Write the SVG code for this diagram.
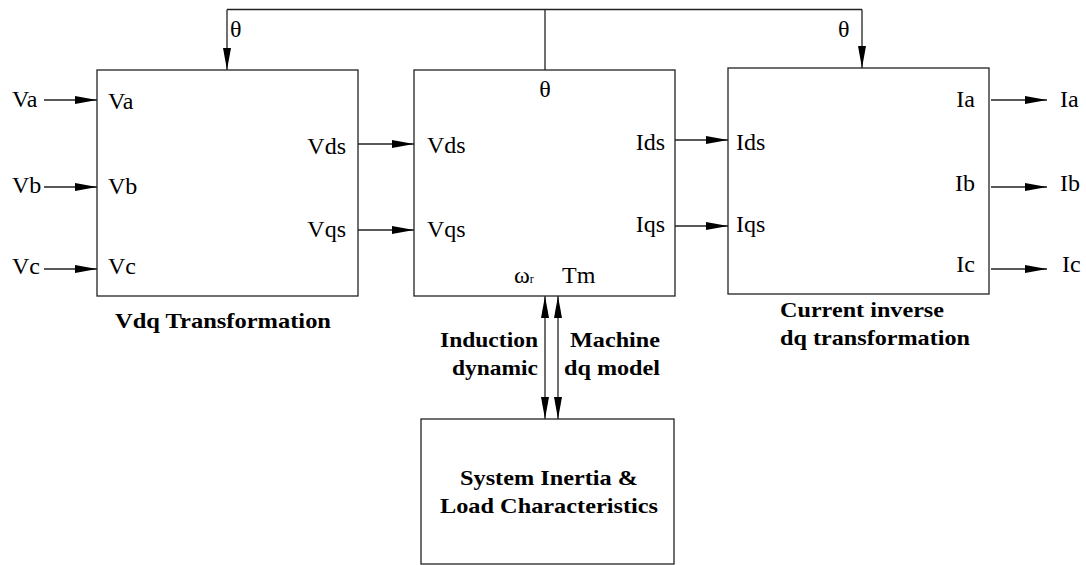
<svg xmlns="http://www.w3.org/2000/svg" width="1086" height="565" viewBox="0 0 1086 565">
<defs>
<marker id="ah" markerUnits="userSpaceOnUse" markerWidth="22" markerHeight="9" refX="22" refY="4.5" orient="auto" viewBox="0 0 22 9">
<path d="M0,0.5 L22,4.5 L0,8.5 z" fill="#000"/>
</marker>
<style>
.box{fill:#fff;stroke:#222;stroke-width:1.3}
.ln{fill:none;stroke:#222;stroke-width:1.3}
.ar{fill:none;stroke:#222;stroke-width:1.3;marker-end:url(#ah)}
.t{font-family:"Liberation Serif","Times New Roman",serif;font-size:24px;fill:#000}
.b{font-family:"Liberation Serif","Times New Roman",serif;font-size:21px;font-weight:bold;fill:#000}
.e{text-anchor:end}
</style>
</defs>
<rect width="1086" height="565" fill="#fff"/>
<g id="connectors">
<path class="ln" d="M227,9.5 H862 M545,9.5 V70"/>
<path class="ar" d="M227,9.5 V70"/>
<path class="ar" d="M862,9.5 V68"/>
<path class="ar" d="M44,100 H97"/>
<path class="ar" d="M44,187 H97"/>
<path class="ar" d="M44,269 H97"/>
<path class="ar" d="M358,144 H414"/>
<path class="ar" d="M358,230 H414"/>
<path class="ar" d="M675,140 H728"/>
<path class="ar" d="M675,226 H728"/>
<path class="ar" d="M991,100 H1047"/>
<path class="ar" d="M991,187 H1047"/>
<path class="ar" d="M991,269 H1047"/>
<path class="ar" d="M545,358 V296"/>
<path class="ar" d="M558,358 V296"/>
<path class="ar" d="M545,358 V419"/>
<path class="ar" d="M558,358 V419"/>
<text class="t" x="230" y="37">θ</text>
<text class="t" x="838" y="37">θ</text>
<text class="t" x="12" y="107">Va</text>
<text class="t" x="12" y="193">Vb</text>
<text class="t" x="12" y="274">Vc</text>
<text class="t" x="1060" y="107">Ia</text>
<text class="t" x="1060" y="191">Ib</text>
<text class="t" x="1062" y="272">Ic</text>
<text class="b e" x="538" y="347" textLength="98" lengthAdjust="spacingAndGlyphs">Induction</text>
<text class="b e" x="538" y="375" textLength="86" lengthAdjust="spacingAndGlyphs">dynamic</text>
<text class="b" x="570" y="347" textLength="90" lengthAdjust="spacingAndGlyphs">Machine</text>
<text class="b" x="564" y="375" textLength="96" lengthAdjust="spacingAndGlyphs">dq model</text>
</g>
<g id="vdq">
<rect class="box" x="97" y="70" width="261" height="226"/>
<text class="t" x="108" y="109">Va</text>
<text class="t" x="108" y="194">Vb</text>
<text class="t" x="108" y="274">Vc</text>
<text class="t e" x="346" y="154">Vds</text>
<text class="t e" x="346" y="237">Vqs</text>
<text class="b" x="115" y="328" textLength="216" lengthAdjust="spacingAndGlyphs">Vdq Transformation</text>
</g>
<g id="machine">
<rect class="box" x="414" y="70" width="261" height="226"/>
<text class="t" x="545" y="97" text-anchor="middle">θ</text>
<text class="t" x="427" y="153">Vds</text>
<text class="t" x="427" y="237">Vqs</text>
<text class="t e" x="665" y="150">Ids</text>
<text class="t e" x="665" y="232">Iqs</text>
<text class="t" x="514" y="283">ω<tspan font-size="12">r</tspan></text>
<text class="t" x="562" y="283">Tm</text>
</g>
<g id="inverse">
<rect class="box" x="728" y="68" width="261" height="226"/>
<text class="t" x="736" y="150">Ids</text>
<text class="t" x="736" y="232">Iqs</text>
<text class="t e" x="975" y="107">Ia</text>
<text class="t e" x="975" y="191">Ib</text>
<text class="t e" x="975" y="272">Ic</text>
<text class="b" x="780" y="317" textLength="164" lengthAdjust="spacingAndGlyphs">Current inverse</text>
<text class="b" x="780" y="345" textLength="190" lengthAdjust="spacingAndGlyphs">dq transformation</text>
</g>
<g id="load">
<rect class="box" x="421" y="419" width="253" height="145"/>
<text class="b" x="460" y="485" textLength="178" lengthAdjust="spacingAndGlyphs">System Inertia &amp;</text>
<text class="b" x="440" y="513" textLength="218" lengthAdjust="spacingAndGlyphs">Load Characteristics</text>
</g>
</svg>
